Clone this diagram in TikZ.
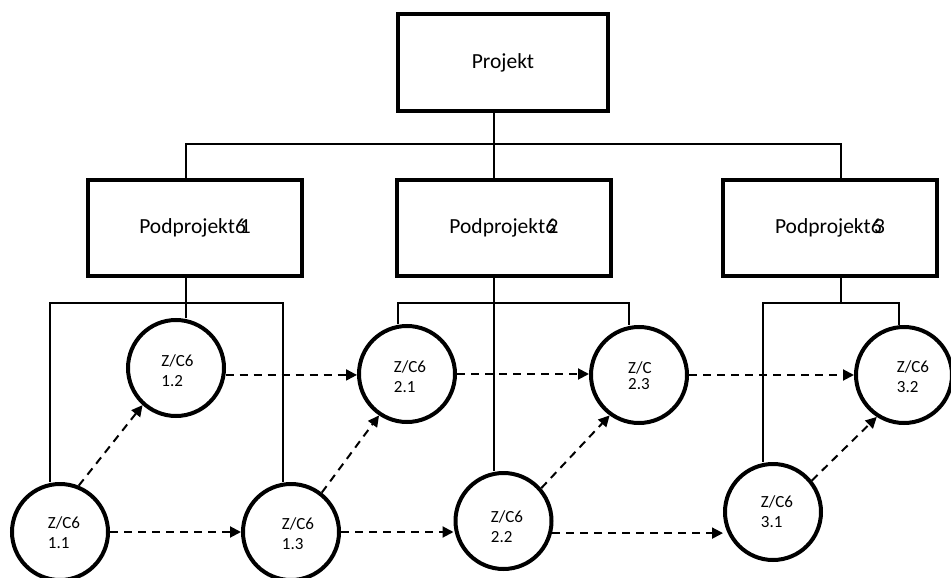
\documentclass[tikz,border=0pt]{standalone}
\usepackage{fontspec}
\setmainfont{Carlito}
\usetikzlibrary{arrows.meta}
% subproject title: the digit is set on top of a stray "6"
\newcommand\podnum[2]{Podprojekt\rlap{6}\hspace{#1}#2}
\begin{document}
\begin{tikzpicture}[x=1pt,y=-1pt,
  box/.style={draw, line width=4pt, minimum width=#1, minimum height=96pt,
    inner sep=0pt, font=\fontsize{21.5}{25}\selectfont},
  box/.default=214pt,
  task/.style={draw, circle, line width=4pt, minimum size=96pt, inner sep=0pt},
  tasktext/.style={align=left, inner sep=0pt, font=\fontsize{17}{20}\selectfont},
  link/.style={line width=2pt},
  dep/.style={line width=2pt, dash pattern=on 8pt off 6pt,
    -{Triangle[length=11pt,width=11pt]}},
]
\useasboundingbox (0,0) rectangle (951,578);

% hierarchy boxes
\node[box=210pt] (proj) at (503,62.5) {Projekt};
\node[box] (p1) at (195,228) {\podnum{0.22em}{1}};
\node[box] (p2) at (504,228) {\podnum{0.11em}{2}};
\node[box] (p3) at (830,228) {\podnum{0.15em}{3}};

% work packages
\node[task, label={[tasktext,xshift=4pt,yshift=-0.5pt]center:{Z/C6\\1.1}}] (c11) at (60,532) {};
\node[task, label={[tasktext,xshift=1.5pt,yshift=-3pt]center:{Z/C6\\1.2}}] (c12) at (176,368) {};
\node[task, label={[tasktext,xshift=7pt,yshift=-1.5pt]center:{Z/C6\\1.3}}] (c13) at (291,532) {};
\node[task, label={[tasktext,xshift=3pt,yshift=-2.5pt]center:{Z/C6\\2.1}}] (c21) at (407,374) {};
\node[task, label={[tasktext,xshift=3.5pt,yshift=-6pt]center:{Z/C6\\2.2}}] (c22) at (503.5,521) {};
\node[task, label={[tasktext,xshift=1pt,yshift=-0.5pt,font=\fontsize{17}{16}\selectfont]center:{Z/C\\2.3}}] (c23) at (639,375) {};
\node[task, label={[tasktext,xshift=4pt]center:{Z/C6\\3.1}}] (c31) at (773,512) {};
\node[task, label={[tasktext,xshift=9pt,yshift=-2pt]center:{Z/C6\\3.2}}] (c32) at (904,375) {};

% junction points of the tree lines
\coordinate (busL) at (186,144);
\coordinate (busM) at (494,144);
\coordinate (busR) at (841,144);
\coordinate (a1) at (50,303);  \coordinate (a2) at (186,303); \coordinate (a3) at (283,303);
\coordinate (b1) at (398,303); \coordinate (b2) at (494,303); \coordinate (b3) at (629,303);
\coordinate (d1) at (763,303); \coordinate (d2) at (841,303); \coordinate (d3) at (899,303);

% tree lines
\draw[link] (busM |- proj.south) -- (busM);
\draw[link] (busL |- p1.north) -- (busL) -- (busR) -- (busR |- p3.north);
\draw[link] (busM) -- (busM |- p2.north);

\draw[link] (a2 |- p1.south) -- (a2 |- c12.north);
\draw[link] (a1 |- c11.north) -- (a1) -- (a3) -- (a3 |- c13.north);

\draw[link] (b2 |- p2.south) -- (b2 |- c22.north);
\draw[link] (b1 |- c21.north) -- (b1) -- (b3) -- (b3 |- c23.north);

\draw[link] (d2 |- p3.south) -- (d2);
\draw[link] (d1 |- c31.north) -- (d1) -- (d3) -- (d3 |- c32.north);

% dependencies
\draw[dep] (c11.east) -- (c11.east -| c13.west);
\draw[dep] (c13.east) -- (c13.east -| c22.west);
\draw[dep] (c22.-14) -- (c22.-14 -| c31.west);
\draw[dep] (c12.-8) -- (c12.-8 -| c21.west);
\draw[dep] (c21.east) -- (c21.east -| c23.west);
\draw[dep] (c23.east) -- (c23.east -| c32.west);

\draw[dep] (c11.68) -- (c12.228);
\draw[dep] (c13.52) -- (c21.236);
\draw[dep] (c22.41) -- (c23.234);
\draw[dep] (c31.39) -- (c32.237);
\end{tikzpicture}
\end{document}
